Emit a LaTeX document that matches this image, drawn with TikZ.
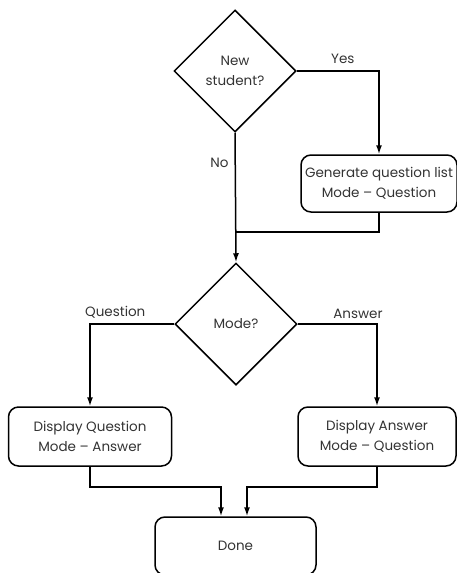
\documentclass[tikz,border=0pt]{standalone}
\usepackage{fontspec}
\setmainfont{Poppins}
\usepackage{xcolor}
\usetikzlibrary{shapes.geometric}
\usetikzlibrary{arrows.meta}
\usetikzlibrary{calc}
\definecolor{inkgray}{HTML}{333333}
\tikzset{>={Latex[length=9pt,width=6pt]}}
\tikzset{
  decision/.style = {diamond, draw, aspect=1, minimum size=122pt, inner sep=0pt, align=center},
  stepbox/.style = {rectangle, rounded corners=10pt, draw, align=center, inner sep=0pt},
  flowlabel/.style = {text=inkgray, font=\fontsize{13.5}{16}\selectfont, inner sep=4pt}
}

\begin{document}
\begin{tikzpicture}[x=1pt, y=-1pt, line width=1.5pt,
    every node/.style={text=inkgray, font=\fontsize{13.5}{20}\selectfont}]
                \useasboundingbox (0,0) rectangle (457,573);
                % decisions
                \node[decision] (newstudent) at (235,71) {New\\student?};
                \node[decision] (mode) at (236,324) {Mode?};
                % actions
                \node[stepbox, minimum width=156pt, minimum height=57pt] (genlist) at (379,183.5) {Generate question list\\Mode -- Question};
                \node[stepbox, minimum width=163pt, minimum height=59pt] (showq) at (90,436.5) {Display Question\\Mode -- Answer};
                \node[stepbox, minimum width=158pt, minimum height=59pt] (showa) at (377,436.5) {Display Answer\\Mode -- Question};
                \node[stepbox, minimum width=161pt, minimum height=58pt] (done) at (235.5,546) {Done};
                \coordinate (join) at (newstudent.south |- 0,232);
                % connectors
                \draw[->] (newstudent.east) -| node[flowlabel, pos=0.28, above, yshift=3pt] {Yes} (genlist.north);
                \draw[->] (newstudent.south) -- node[flowlabel, pos=0.23, left, xshift=-2pt] {No} (mode.north);
                \draw (genlist.south) |- (join);
                \draw[->] (mode.west) -| node[flowlabel, pos=0.35, above, yshift=1pt] {Question} (showq.north);
                \draw[->] (mode.east) -| node[flowlabel, pos=0.38, above, yshift=1pt] {Answer} (showa.north);
                \draw[->] (showq.south) -- ++(0,20) -| ([xshift=-14.5pt]done.north);
                \draw[->] (showa.south) -- ++(0,20) -| ([xshift=11.5pt]done.north);
            \end{tikzpicture}
\end{document}
